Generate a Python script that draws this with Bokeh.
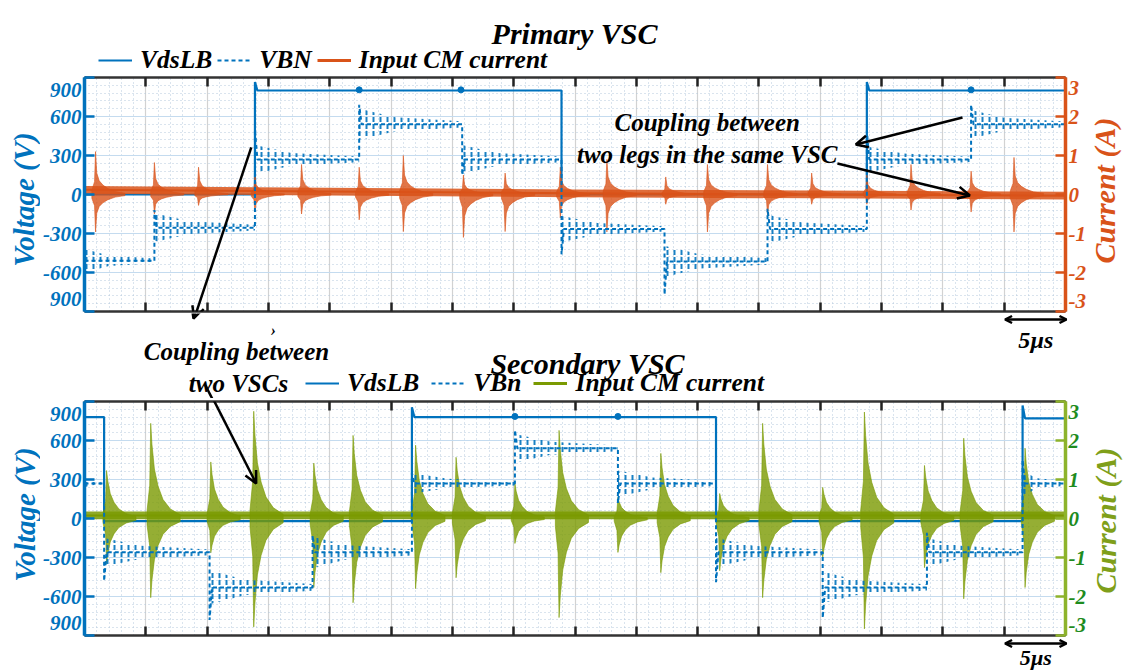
import math
from bokeh.plotting import figure
from bokeh.models import (Range1d, LinearAxis, SingleIntervalTicker, FixedTicker, Label, Arrow,
                          OpenHead, Legend, LegendItem)
from bokeh.layouts import column, row
from bokeh.embed import file_html
from bokeh.resources import INLINE

FONT = "Liberation Serif"
STYLE = "bold italic"
BLUE = "#0072BD"
ORANGE = "#D95319"
GREEN = "#7A9A01"
GREEN_AXIS = "#8DB32B"
GREEN_TEXT = "#1E8C1E"
GREEN_LABEL = "#7F9F1A"

# ---------------- data (time in µs, voltage in V, current in A) ----------------
T_START, T_END = 0.0, 80.0
T_TICKS = [0, 5, 10, 15, 20, 25, 30, 35, 40, 45, 50, 55, 60, 65, 70, 75, 80]
V_TICKS = [-900, -600, -300, 0, 300, 600, 900]
V_TICK_LABELS = ["900", "-600", "-300", "0", "300", "600", "900"]
I_TICKS = [-3, -2, -1, 0, 1, 2, 3]
I_TICK_LABELS = ["-3", "-2", "-1", "0", "1", "2", "3"]
SCALE_BAR_US = [75, 80]

# Primary VSC
P_VDS_EDGES = [13.9, 38.9, 63.8]
P_VDS_LEVELS = [0, 800, 0, 800]
P_VDS_PEAKS = [865, 0, 865]
P_VDS_BLIP_T = [22.4, 30.7, 72.3]
P_VDS_BLIP_V = [805, 805, 805]
P_VBN_EDGES = [5.7, 13.9, 22.4, 30.8, 38.9, 47.3, 55.7, 63.8, 72.3]
P_VBN_LEVELS = [-510, -255, 270, 540, 270, -265, -515, -265, 270, 540]
P_VBN_PEAKS = [-120, 500, 690, 150, -460, -770, -110, 490, 690]
P_VBN_RING = [90, 110, 110, 120, 110, 100, 120, 110, 100, 110]
P_CM_BASE_T = [0, 40, 80]
P_CM_BASE_I = [0.12, 0.03, -0.03]
P_CM_T = [0.9, 5.7, 9.3, 13.9, 17.7, 22.4, 26.0, 30.9, 34.3, 38.8,
          42.6, 47.4, 50.8, 55.7, 59.3, 63.8, 67.4, 72.3, 75.8]
P_CM_POS = [1.1, 0.82, 0.7, 0.5, 0.77, 0.7, 1.0, 0.5, 0.55, 0.7,
            0.9, 0.45, 0.77, 0.77, 0.55, 0.5, 0.77, 0.6, 0.95]
P_CM_NEG = [-0.96, -0.5, -0.28, -0.45, -0.5, -0.65, -0.95, -1.1, -0.95, -0.6,
            -0.96, -0.25, -0.96, -0.53, -0.25, -0.25, -0.4, -0.45, -0.96]

# Secondary VSC
S_VDS_EDGES = [1.6, 26.7, 51.5, 76.5]
S_VDS_LEVELS = [780, -20, 780, -20, 770]
S_VDS_PEAKS = [-20, 855, -20, 870]
S_VDS_BLIP_T = [35.1, 43.5]
S_VDS_BLIP_V = [785, 785]
S_VBN_EDGES = [1.6, 10.2, 18.6, 26.7, 35.1, 43.5, 51.5, 60.2, 68.7, 76.5]
S_VBN_LEVELS = [270, -260, -530, -260, 270, 540, 270, -260, -530, -260, 270]
S_VBN_PEAKS = [-480, -780, -130, 350, 680, 120, -490, -765, -110, 450]
S_VBN_RING = [30, 110, 130, 120, 80, 110, 100, 110, 120, 110, 90]
S_CM_BASE_T = [0, 80]
S_CM_BASE_I = [0.08, 0.08]
S_CM_T = [1.8, 5.4, 10.3, 13.8, 18.7, 21.9, 27.0, 30.3, 35.1, 38.7,
          43.5, 47.0, 51.8, 55.3, 60.2, 63.6, 68.5, 71.7, 76.7]
S_CM_POS = [1.23, 2.44, 1.45, 2.75, 1.42, 2.13, 1.88, 1.57, 0.9, 2.26,
            0.54, 1.67, 0.64, 2.44, 0.8, 2.73, 1.36, 2.06, 1.8]
S_CM_NEG = [-1.16, -2.03, -0.88, -2.78, -1.77, -2.16, -1.8, -1.52, -0.64, -2.54,
            -0.87, -1.39, -1.34, -2.03, -1.0, -2.83, -1.26, -2.06, -1.77]

# envelopes of one ringing burst (offset µs, fraction of peak)
BURST_DT = [-0.3, -0.08, 0.0, 0.1, 0.3, 0.6, 1.0, 1.6, 2.4]
BURST_FRAC_P = [0.1, 0.3, 1.0, 0.5, 0.32, 0.22, 0.14, 0.07, 0.03]
BURST_FRAC_S = [0.08, 0.35, 1.0, 0.78, 0.52, 0.34, 0.2, 0.1, 0.04]

# ---------------- page geometry / style (pixels) ----------------
W = 1126
FRAME_L, FRAME_R = 83, 1066
LSTRIP_W, RSTRIP_W = 40, 38
PX_PER_US = (FRAME_R - FRAME_L) / (T_END - T_START)
X_RANGE_FULL = (T_START - FRAME_L / PX_PER_US, T_START + (W - FRAME_L) / PX_PER_US)
HEAD_H, TOP_H, MID_H, BOT_H, FOOT_H = 75, 238, 85, 239, 33
TOP_FRAME_Y = HEAD_H + 2                    # 77
BOT_FRAME_Y = HEAD_H + TOP_H + MID_H + 3    # 401
FRAME_H = 234
V_PER_PX = 1800 / FRAME_H
# edge tick labels sit slightly inside the frame, as in the picture
V_LABEL_POS = [-805, -600, -300, 0, 300, 600, 805]
I_LABEL_POS = [-2.72, -2, -1, 0, 1, 2, 2.72]


def no_align(p):
    try:
        p.frame_align = False
    except Exception:
        pass
    return p


def v_to_y(v, frame_top):
    return frame_top + (900 - v) / V_PER_PX


def px_to_us(x):
    return (x - FRAME_L) / PX_PER_US


def step_trace(edges, levels, peaks, settle=0.2):
    xs, ys = [T_START], [levels[0]]
    for e, prev, pk, nxt in zip(edges, levels[:-1], peaks, levels[1:]):
        xs += [e, e, e + settle]
        ys += [prev, pk, nxt]
    xs.append(T_END)
    ys.append(levels[-1])
    return xs, ys


def ring_shapes(edges, levels, amps):
    starts = [T_START] + list(edges)
    ends = list(edges) + [T_END]
    xs, ys = [], []
    for s, e, lv, a in zip(starts, ends, levels, amps):
        k = s + 0.35 * (e - s)
        xs.append([s, k, e, e, k, s])
        ys.append([lv + a, lv + 0.45 * a, lv + 0.2 * a, lv - 0.2 * a, lv - 0.45 * a, lv - a])
    return xs, ys


def burst_shapes(times, pos, neg, frac):
    xs, ys = [], []
    for t, hi, lo in zip(times, pos, neg):
        xs.append([t + d for d in BURST_DT] + [t + d for d in reversed(BURST_DT)])
        ys.append([hi * f for f in frac] + [lo * f for f in reversed(frac)])
    return xs, ys


def text(p, s, x, y, size, color="black", align="center", baseline="alphabetic", angle=0.0):
    p.add_layout(Label(x=x, y=y, text=s, text_font=FONT, text_font_style=STYLE,
                       text_font_size=size, text_color=color, text_align=align,
                       text_baseline=baseline, angle=angle))


def arrow(p, x0, y0, x1, y1, both=False, size=12, width=2.5):
    kw = dict(end=OpenHead(size=size, line_width=width, line_color="black"))
    if both:
        kw["start"] = OpenHead(size=size, line_width=width, line_color="black")
    p.add_layout(Arrow(x_start=x0, y_start=y0, x_end=x1, y_end=y1,
                       line_color="black", line_width=width, **kw))


def strip(width, height, x_lo, x_hi, y_top):
    """A figure whose frame covers its whole canvas; y is the page row in pixels."""
    p = figure(width=width, height=height, x_range=Range1d(x_lo, x_hi),
               y_range=Range1d(y_top + height, y_top), output_backend="svg",
               toolbar_location=None, title=None, x_axis_location=None, y_axis_location=None,
               min_border=0)
    p.outline_line_color = None
    p.grid.visible = False
    return no_align(p)


def legend_for(p, names, current_color, loc, spacing, row_h):
    nan = [math.nan]
    r1 = p.line(x=nan, y=nan, line_color=BLUE, line_width=2.2)
    r2 = p.line(x=nan, y=nan, line_color=BLUE, line_width=2, line_dash="4 3")
    r3 = p.line(x=nan, y=nan, line_color=current_color, line_width=3)
    leg = Legend(items=[LegendItem(label=names[0], renderers=[r1]),
                        LegendItem(label=names[1], renderers=[r2]),
                        LegendItem(label=names[2], renderers=[r3])],
                 orientation="horizontal", location=loc, padding=0, margin=0,
                 spacing=spacing, glyph_width=34, glyph_height=row_h, label_height=row_h,
                 label_standoff=8, label_text_font=FONT, label_text_font_style=STYLE,
                 label_text_font_size="25.5px", label_text_color="black",
                 background_fill_alpha=0, border_line_alpha=0)
    p.add_layout(leg)


def style_value_axis(ax, ticks, label_pos, labels, line_color, text_color):
    ax.ticker = FixedTicker(ticks=label_pos, minor_ticks=ticks)
    ax.axis_line_color = line_color
    ax.axis_line_width = 3.5
    ax.major_tick_line_color = None
    ax.major_tick_in = 0
    ax.major_tick_out = 0
    ax.minor_tick_line_color = line_color
    ax.minor_tick_line_width = 2.5
    ax.minor_tick_in = 10
    ax.minor_tick_out = 0
    ax.major_label_overrides = dict(zip(label_pos, labels))
    ax.major_label_text_color = text_color
    ax.major_label_text_font = FONT
    ax.major_label_text_font_style = STYLE
    ax.major_label_text_font_size = "21px"
    ax.major_label_standoff = 3
    ax.axis_label_standoff = 0


def make_panel(height, top_border, bottom_border, cur_color, cur_axis_color, cur_text_color,
               vds, vbn, cm, frac):
    p = figure(width=W - LSTRIP_W - RSTRIP_W, height=height, x_range=Range1d(T_START, T_END),
               y_range=Range1d(-900, 900), output_backend="svg", toolbar_location=None,
               title=None, min_border_left=FRAME_L - LSTRIP_W,
               min_border_right=W - RSTRIP_W - FRAME_R,
               min_border_top=top_border, min_border_bottom=bottom_border)
    no_align(p)
    p.extra_y_ranges = {"cur": Range1d(-3, 3)}
    p.outline_line_color = None

    xt = FixedTicker(ticks=[], minor_ticks=T_TICKS)
    xb = p.xaxis[0]
    xb.ticker = xt
    xa = LinearAxis(ticker=xt)
    p.add_layout(xa, "above")
    for ax in (xb, xa):
        ax.axis_line_color = "#333333"
        ax.axis_line_width = 2.5
        ax.major_tick_line_color = None
        ax.major_tick_in = 0
        ax.major_tick_out = 0
        ax.minor_tick_line_color = "#222222"
        ax.minor_tick_line_width = 2.5
        ax.minor_tick_in = 9
        ax.minor_tick_out = 0
        ax.major_label_standoff = 0
        ax.axis_label_standoff = 0

    style_value_axis(p.yaxis[0], V_TICKS, V_LABEL_POS, V_TICK_LABELS, BLUE, BLUE)
    ra = LinearAxis(y_range_name="cur")
    style_value_axis(ra, I_TICKS, I_LABEL_POS, I_TICK_LABELS, cur_axis_color, cur_text_color)
    p.add_layout(ra, "right")

    gx = SingleIntervalTicker(interval=5, num_minor_ticks=5)
    gy = SingleIntervalTicker(interval=300, num_minor_ticks=5)
    p.xgrid.ticker = gx
    p.ygrid.ticker = gy
    p.xgrid.grid_line_color = "#d2d2d2"
    p.xgrid.grid_line_width = 1.2
    p.ygrid.grid_line_color = "#c4dbef"
    p.ygrid.grid_line_width = 1.2
    for g in (p.xgrid, p.ygrid):
        g.minor_grid_line_color = "#b4c8dc"
        g.minor_grid_line_dash = "1 3"
        g.minor_grid_line_width = 1

    # VdsLB
    vx, vy = step_trace(*vds[:3])
    p.line(vx, vy, line_color=BLUE, line_width=2.2)
    p.scatter(vds[3], vds[4], size=6, color=BLUE, marker="circle")

    # input CM current
    bt, bi = cm[0], cm[1]
    p.varea(x=bt, y1=[b - 0.1 for b in bi], y2=[b + 0.1 for b in bi],
            y_range_name="cur", fill_color=cur_color, fill_alpha=0.85)
    p.line(bt, bi, y_range_name="cur", line_color=cur_color, line_width=2)
    bxs, bys = burst_shapes(cm[2], cm[3], cm[4], frac)
    p.patches(bxs, bys, y_range_name="cur", fill_color=cur_color, fill_alpha=0.8,
              line_color=cur_color, line_width=0.6)

    # VBN
    nx, ny = step_trace(*vbn[:3])
    rxs, rys = ring_shapes(vbn[0], vbn[1], vbn[3])
    p.patches(rxs, rys, fill_color=None, line_color=None, hatch_pattern="vertical_dash",
              hatch_color=BLUE, hatch_scale=7, hatch_weight=2, hatch_alpha=0.9)
    p.line(nx, ny, line_color=BLUE, line_width=2, line_dash="4 3")
    return p


def side_labels(y_top, height, volt_xy, cur_xy, cur_color):
    ls = strip(LSTRIP_W, height, 0, LSTRIP_W, y_top)
    text(ls, "Voltage (V)", volt_xy[0], volt_xy[1], "29px", BLUE, baseline="middle",
         angle=math.pi / 2)
    rs = strip(RSTRIP_W, height, W - RSTRIP_W, W, y_top)
    text(rs, "Current (A)", cur_xy[0], cur_xy[1], "30px", cur_color, baseline="middle",
         angle=math.pi / 2)
    return ls, rs


# ---------------- header: title + legend of the primary panel ----------------
head = strip(W, HEAD_H, X_RANGE_FULL[0], X_RANGE_FULL[1], 0)
text(head, "Primary VSC", px_to_us(574), 33, "30px")
legend_for(head, ["VdsLB", "VBN", "Input CM current"], ORANGE, (98, 0), 5, 24)

# ---------------- primary panel ----------------
p1 = make_panel(TOP_H, 2, 2, ORANGE, ORANGE, ORANGE,
                (P_VDS_EDGES, P_VDS_LEVELS, P_VDS_PEAKS, P_VDS_BLIP_T, P_VDS_BLIP_V),
                (P_VBN_EDGES, P_VBN_LEVELS, P_VBN_PEAKS, P_VBN_RING),
                (P_CM_BASE_T, P_CM_BASE_I, P_CM_T, P_CM_POS, P_CM_NEG), BURST_FRAC_P)
text(p1, "Coupling between", px_to_us(707), 900 - (122 - TOP_FRAME_Y) * V_PER_PX, "25px")
text(p1, "two legs in the same VSC", px_to_us(707), 900 - (154 - TOP_FRAME_Y) * V_PER_PX, "25px")
arrow(p1, 71.6, 592, 62.9, 385)
arrow(p1, 61.4, 238, 72.2, -8)
ARROW_VSC_TOP = (13.6, 362, 8.95, -954)          # (t, V) start -> end, primary frame
arrow(p1, *ARROW_VSC_TOP)
ls1, rs1 = side_labels(HEAD_H, TOP_H, (23, 199), (1104, 190), ORANGE)

# ---------------- middle strip: between the two panels ----------------
mid_y0 = HEAD_H + TOP_H
mid = strip(W, MID_H, X_RANGE_FULL[0], X_RANGE_FULL[1], mid_y0)
a = ARROW_VSC_TOP
arrow(mid, a[0], v_to_y(a[1], TOP_FRAME_Y), a[2], v_to_y(a[3], TOP_FRAME_Y))
ARROW_VSC_BOT = (9.93, 1023, 14.0, 269)          # (t, V) start -> end, secondary frame
b = ARROW_VSC_BOT
arrow(mid, b[0], v_to_y(b[1], BOT_FRAME_Y), b[2], v_to_y(b[3], BOT_FRAME_Y))
arrow(mid, SCALE_BAR_US[0], 319, SCALE_BAR_US[1], 319, both=True, size=7)
text(mid, "5µs", 77.5, 339, "24px")
text(mid, "Coupling between", px_to_us(236), 351, "25px")
text(mid, "two VSCs", px_to_us(238), 383, "25px")
text(mid, "›", px_to_us(273), 330, "16px")
text(mid, "Secondary VSC", px_to_us(587), 363, "30px")
legend_for(mid, ["VdsLB", "VBn", "Input CM current"], GREEN, (305, 0), 12, 22)

# ---------------- secondary panel ----------------
p2 = make_panel(BOT_H, 3, 2, GREEN, GREEN_AXIS, GREEN_TEXT,
                (S_VDS_EDGES, S_VDS_LEVELS, S_VDS_PEAKS, S_VDS_BLIP_T, S_VDS_BLIP_V),
                (S_VBN_EDGES, S_VBN_LEVELS, S_VBN_PEAKS, S_VBN_RING),
                (S_CM_BASE_T, S_CM_BASE_I, S_CM_T, S_CM_POS, S_CM_NEG), BURST_FRAC_S)
arrow(p2, *ARROW_VSC_BOT)
ls2, rs2 = side_labels(mid_y0 + MID_H, BOT_H, (24, 514), (1105, 520), GREEN_LABEL)

# ---------------- footer: time scale bar ----------------
foot_y0 = HEAD_H + TOP_H + MID_H + BOT_H
foot = strip(W, FOOT_H, X_RANGE_FULL[0], X_RANGE_FULL[1], foot_y0)
arrow(foot, SCALE_BAR_US[0], 643, SCALE_BAR_US[1], 643, both=True, size=7)
text(foot, "5µs", 77.5, 669, "22px", baseline="bottom")

layout = column(head, row(ls1, p1, rs1, spacing=0), mid, row(ls2, p2, rs2, spacing=0), foot,
                spacing=0)
open("out.html", "w").write(file_html(layout, INLINE))
